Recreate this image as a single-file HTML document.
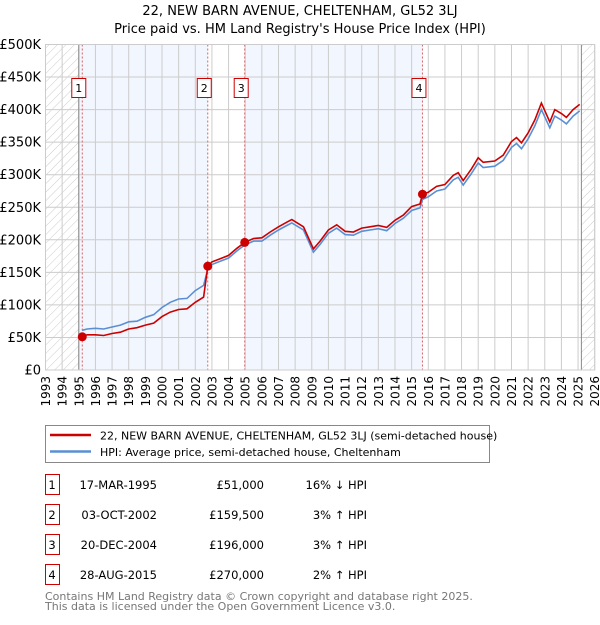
<!DOCTYPE html>
<html><head><meta charset="utf-8"><style>
body{margin:0;background:#fff;font-family:"Liberation Sans","DejaVu Sans",sans-serif;}
svg text{font-family:"DejaVu Sans","Liberation Sans",sans-serif;}
</style></head><body>
<svg id="c" width="600" height="620" viewBox="0 0 600 620" xmlns="http://www.w3.org/2000/svg">
<defs><pattern id="hatch" width="6" height="6" patternUnits="userSpaceOnUse" patternTransform="rotate(45)"><line x1="0" y1="0" x2="0" y2="6" stroke="#ccc" stroke-width="1"/></pattern></defs>
<text x="300" y="15" text-anchor="middle" font-size="13" fill="#000">22, NEW BARN AVENUE, CHELTENHAM, GL52 3LJ</text>
<text x="300" y="33" text-anchor="middle" font-size="13" fill="#000">Price paid vs. HM Land Registry's House Price Index (HPI)</text>
<g id="plot"></g>
<g>
<rect x="45.5" y="425.5" width="444" height="37" fill="#fff" stroke="#888"/>
<line x1="50" y1="435" x2="91" y2="435" stroke="#cc0000" stroke-width="2.5"/>
<text x="100" y="439.5" font-size="11">22, NEW BARN AVENUE, CHELTENHAM, GL52 3LJ (semi-detached house)</text>
<line x1="50" y1="451.5" x2="91" y2="451.5" stroke="#5b8fd4" stroke-width="2.5"/>
<text x="100" y="456" font-size="11">HPI: Average price, semi-detached house, Cheltenham</text>
</g>
<g id="table"></g>
<text x="45" y="600" font-size="11" fill="#777">Contains HM Land Registry data © Crown copyright and database right 2025.</text>
<text x="45" y="610" font-size="11" fill="#777">This data is licensed under the Open Government Licence v3.0.</text>
</svg>
<script>
const years=[1995.2,1995.5,1996,1996.5,1997,1997.5,1998,1998.5,1999,1999.5,2000,2000.5,2001,2001.5,2002,2002.5,2002.75,2003,2003.5,2004,2004.5,2004.97,2005.5,2006,2006.5,2007,2007.5,2007.8,2008.5,2009.1,2009.5,2010,2010.5,2011,2011.5,2012,2012.5,2013,2013.5,2014,2014.5,2015,2015.5,2015.65,2016,2016.5,2017,2017.5,2017.8,2018.1,2018.6,2019,2019.3,2020,2020.5,2021,2021.3,2021.6,2022,2022.4,2022.8,2023.3,2023.6,2024,2024.3,2024.7,2025.1];
const hpi=[61,63,64,63,66,69,74,75,81,85,96,104,109,110,122,130,155,162,167,172,183,192,198,198,207,215,222,226,215,181,193,210,218,208,207,213,215,217,214,225,233,245,249,262,266,275,278,292,296,284,302,318,311,313,322,342,348,340,355,375,400,372,390,384,378,390,398];
const price=[51,54,54,53,56,58,63,65,69,72,82,89,93,94,104,112,159.5,166,171,176,187,196,202,203,212,220,227,231,220,186,198,215,223,213,212,218,220,222,219,230,238,251,255,270,273,282,285,299,303,291,309,326,319,321,330,351,357,349,364,384,410,381,400,394,388,400,408];
const saleLabels=["1","2","3","4"];
const saleYears=[1995.21,2002.75,2004.97,2015.65];
const saleValues=[51,159.5,196,270];
const saleDates=["17-MAR-1995","03-OCT-2002","20-DEC-2004","28-AUG-2015"];
const salePrices=["£51,000","£159,500","£196,000","£270,000"];
const saleHpi=["16% ↓ HPI","3% ↑ HPI","3% ↑ HPI","2% ↑ HPI"];
const yTicks=[0,50,100,150,200,250,300,350,400,450,500];
const yTickLabels=["£0","£50K","£100K","£150K","£200K","£250K","£300K","£350K","£400K","£450K","£500K"];
const xTicks=[1993,1994,1995,1996,1997,1998,1999,2000,2001,2002,2003,2004,2005,2006,2007,2008,2009,2010,2011,2012,2013,2014,2015,2016,2017,2018,2019,2020,2021,2022,2023,2024,2025,2026];
const X0=45.5,X1=594.7,Y0=370,Y1=44.5;
const x=v=>X0+(v-1993)/(2026-1993)*(X1-X0);
const y=v=>Y0-v/500*(Y0-Y1);
const NS="http://www.w3.org/2000/svg";
const g=document.getElementById('plot');
function mk(tag,attrs,parent){const e=document.createElementNS(NS,tag);for(const k in attrs)e.setAttribute(k,attrs[k]);(parent||g).appendChild(e);return e;}
let r;
r=mk('rect',{x:x(1993),y:Y1,width:x(1995)-x(1993),height:Y0-Y1,fill:'url(#hatch)'});


r=mk('rect',{x:x(2025.2),y:Y1,width:X1-x(2025.2),height:Y0-Y1,fill:'url(#hatch)'});


r=mk('rect',{x:x(1995),y:Y1,width:x(saleYears[1])-x(1995),height:Y0-Y1,fill:'#f2f6fe'});


r=mk('rect',{x:x(saleYears[2]),y:Y1,width:x(saleYears[3])-x(saleYears[2]),height:Y0-Y1,fill:'#f2f6fe'});


xTicks.forEach((t,i)=>{
 const l=mk('line',{x1:x(t),x2:x(t),y1:Y1,y2:Y0,stroke:'#ccc','stroke-width':1});
 
 
 const tx=mk('text',{x:0,y:0,'font-size':12,'text-anchor':'end',transform:`translate(${x(t)+4.5},${Y0+6}) rotate(-90)`});
 tx.textContent=t;
 
 
});
yTicks.forEach((t,i)=>{
 const l=mk('line',{x1:X0,x2:X1,y1:y(t),y2:y(t),stroke:'#ccc','stroke-width':1});
 
 
 const tx=mk('text',{x:41,y:y(t)+4.5,'font-size':13,'text-anchor':'end'});
 tx.textContent=yTickLabels[i];
 
 
});
let bl=mk('line',{x1:x(1995),x2:x(1995),y1:Y1,y2:Y0,stroke:'#888','stroke-width':1});


bl=mk('line',{x1:x(2025.2),x2:x(2025.2),y1:Y1,y2:Y0,stroke:'#888','stroke-width':1});


saleYears.forEach((s,i)=>{
 const l=mk('line',{x1:x(s),x2:x(s),y1:Y1,y2:Y0,stroke:'#e06060','stroke-width':1,'stroke-dasharray':'2,2'});
 
 
 const b=mk('rect',{x:x(s)-10.5,y:78.5,width:14,height:19,fill:'#fff',stroke:'#cc0000'});
 
 
 const t=mk('text',{x:x(s)-3.5,y:92,'font-size':11,'text-anchor':'middle'});
 t.textContent=saleLabels[i];
 
 
});
const pts=a=>years.map((yr,i)=>x(yr).toFixed(1)+','+y(a[i]).toFixed(1)).join(' ');
let p=mk('polyline',{points:pts(hpi),fill:'none',stroke:'#5b8fd4','stroke-width':1.6});


p=mk('polyline',{points:pts(price),fill:'none',stroke:'#cc0000','stroke-width':1.6});


saleYears.forEach((s,i)=>{
 const c=mk('circle',{cx:x(s),cy:y(saleValues[i]),r:4.5,fill:'#cc0000'});
 
 
});
let ax=mk('rect',{x:X0,y:Y1,width:X1-X0,height:Y0-Y1,fill:'none',stroke:'#ccc'});


const tb=document.getElementById('table');
saleLabels.forEach((lab,i)=>{
 const yy=483+i*30;
 const b=mk('rect',{x:45.5,y:yy-8.5,width:14,height:20,fill:'#fff',stroke:'#cc0000'},tb);
 
 
 const cells=[[52,lab,'middle'],[157,saleDates[i],'end'],[264,salePrices[i],'end'],[367,saleHpi[i],'end']];
 cells.forEach(([cx,txt,anc],j)=>{
  const t=mk('text',{x:cx,y:yy+6,'font-size':11.5,'text-anchor':anc},tb);
  t.textContent=txt;
  
  
 });
});
</script>
</body></html>
